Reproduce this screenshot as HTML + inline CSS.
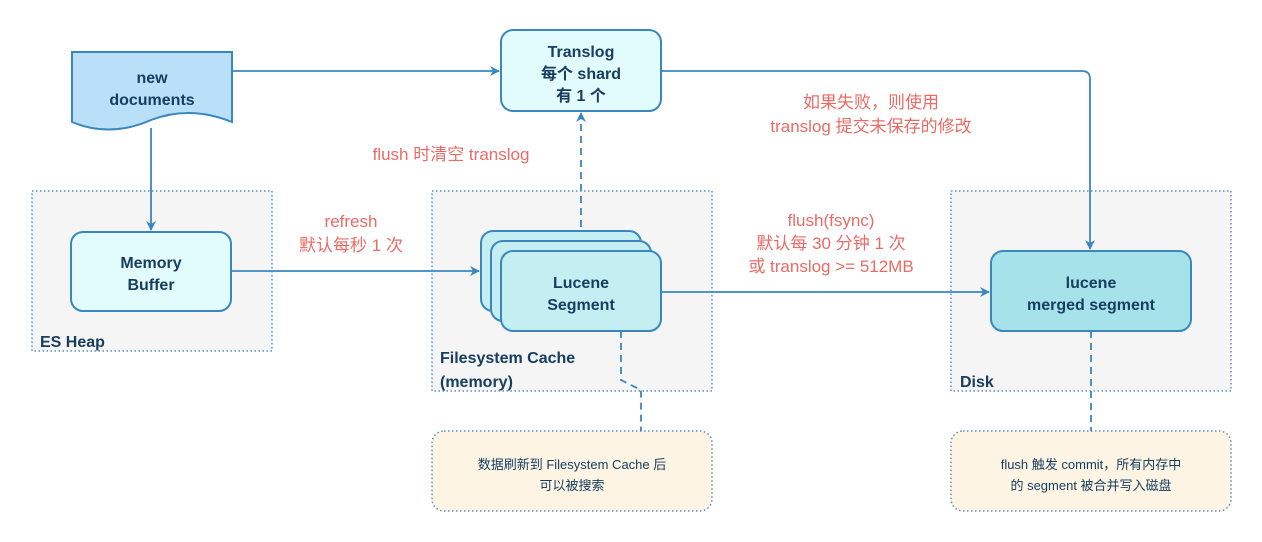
<!DOCTYPE html>
<html><head><meta charset="utf-8"><style>
html,body{margin:0;padding:0;background:#fff;}
svg{display:block;}
text{font-family:"Liberation Sans","Noto Sans CJK SC",sans-serif;}
.b{font-weight:bold;fill:#173e60;font-size:16px;}
.r{fill:#ea6b66;font-size:17px;}
.s{fill:#173e60;font-size:13px;}
</style></head><body>
<svg width="1262" height="542" viewBox="0 0 1262 542">
<defs><marker id="a" markerWidth="10" markerHeight="10" refX="9" refY="5" orient="auto" markerUnits="userSpaceOnUse"><path d="M0,0 L10,5 L0,10 L3,5z" fill="#3a87c0"/></marker></defs>
<g stroke="#5b8fc0" stroke-width="1.5" stroke-dasharray="1.5 2.5">
<rect x="32" y="191" width="240" height="160" fill="#f5f5f5"/>
<rect x="432" y="191" width="280" height="200" fill="#f5f5f5"/>
<rect x="951" y="191" width="280" height="200" fill="#f5f5f5"/>
<rect x="432" y="431" width="280" height="80" rx="12" fill="#fdf4e4"/>
<rect x="951" y="431" width="280" height="80" rx="12" fill="#fdf4e4"/>
</g>
<g stroke="#3a87c0" stroke-width="1.8" fill="none">
<path d="M232,71 H499" marker-end="url(#a)"/>
<path d="M151,128 V230" marker-end="url(#a)"/>
<path d="M231,271 H479" marker-end="url(#a)"/>
<path d="M661,292 H989" marker-end="url(#a)"/>
<path d="M661,71 H1082 Q1090,71 1090,79 V249" marker-end="url(#a)"/>
<path d="M581,251 V113" stroke-dasharray="7 5" marker-end="url(#a)"/>
<path d="M621,331 V380 L641,390 V431" stroke-dasharray="7 5"/>
<path d="M1091,331 V431" stroke-dasharray="7 5"/>
</g>
<path d="M72,52 H232 V122 Q190,105 151,120 Q110,138 72,122 Z" fill="#b9e0f8" stroke="#3a87c0" stroke-width="2"/>
<g stroke="#3a87c0" stroke-width="2">
<rect x="501" y="30" width="160" height="81" rx="12" fill="#e2fbfd"/>
<rect x="71" y="232" width="160" height="79" rx="12" fill="#e2fbfd"/>
<rect x="481" y="231" width="160" height="80" rx="12" fill="#c5eef3"/>
<rect x="491" y="241" width="160" height="80" rx="12" fill="#c5eef3"/>
<rect x="501" y="251" width="160" height="80" rx="12" fill="#c5eef3"/>
<rect x="991" y="251" width="200" height="80" rx="12" fill="#a6e2ea"/>
</g>
<g class="b" text-anchor="middle">
<text x="152" y="83">new</text><text x="152" y="105">documents</text>
<text x="581" y="57">Translog</text><text x="581" y="79">每个 shard</text><text x="581" y="101">有 1 个</text>
<text x="151" y="268">Memory</text><text x="151" y="290">Buffer</text>
<text x="581" y="288">Lucene</text><text x="581" y="310">Segment</text>
<text x="1091" y="288">lucene</text><text x="1091" y="310">merged segment</text>
</g>
<g class="b" font-size="17">
<text x="40" y="347" class="b" font-size="17">ES Heap</text>
<text x="440" y="363">Filesystem Cache</text><text x="440" y="387">(memory)</text>
<text x="960" y="387">Disk</text>
</g>
<g class="r" text-anchor="middle">
<text x="451" y="160">flush 时清空 translog</text>
<text x="351" y="227">refresh</text><text x="351" y="251">默认每秒 1 次</text>
<text x="831" y="226">flush(fsync)</text><text x="831" y="249">默认每 30 分钟 1 次</text><text x="831" y="272">或 translog &gt;= 512MB</text>
<text x="871" y="108">如果失败，则使用</text><text x="871" y="132">translog 提交未保存的修改</text>
</g>
<g class="s" text-anchor="middle">
<text x="572" y="469">数据刷新到 Filesystem Cache 后</text><text x="572" y="490">可以被搜索</text>
<text x="1091" y="469">flush 触发 commit，所有内存中</text><text x="1091" y="490">的 segment 被合并写入磁盘</text>
</g>
</svg>
</body></html>
